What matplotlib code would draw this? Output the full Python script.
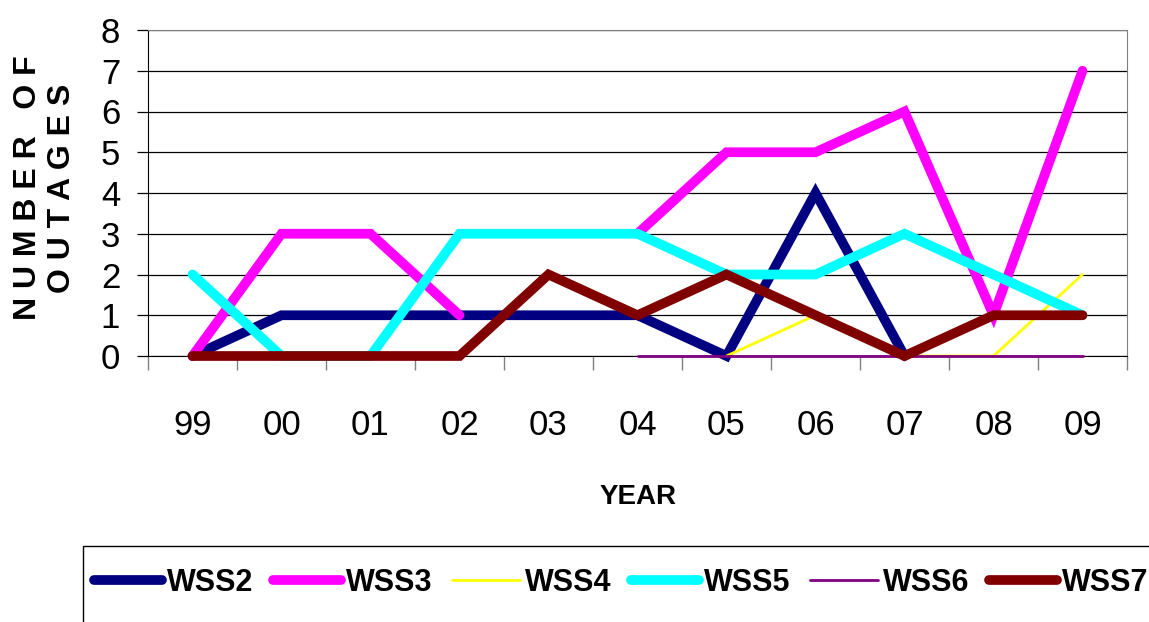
import numpy as np
import matplotlib
matplotlib.use('Agg')
import matplotlib.pyplot as plt
from matplotlib.patches import Rectangle

years = ['99', '00', '01', '02', '03', '04', '05', '06', '07', '08', '09']
nan = np.nan
wss2 = [0, 1, 1, 1, 1, 1, 0, 4, 0, nan, nan]
wss3 = [0, 3, 3, 1, nan, 3, 5, 5, 6, 1, 7]
wss4 = [nan, nan, nan, nan, nan, nan, 0, 1, 0, 0, 2]
wss5 = [2, 0, 0, 3, 3, 3, 2, 2, 3, 2, 1]
wss6 = [nan, nan, nan, nan, nan, 0, 0, 0, 0, 0, 0]
wss7 = [0, 0, 0, 0, 2, 1, 2, 1, 0, 1, 1]

series = [('WSS2', wss2, '#000080', 7),
          ('WSS3', wss3, '#ff00ff', 7),
          ('WSS4', wss4, '#ffff00', 2),
          ('WSS5', wss5, '#00ffff', 7),
          ('WSS6', wss6, '#800080', 2),
          ('WSS7', wss7, '#800000', 7)]

plt.rcParams['font.family'] = ['Liberation Sans', 'DejaVu Sans']

W, H = 1149, 622
fig = plt.figure(figsize=(W/100, H/100), dpi=100)
ax = fig.add_axes([148/W, 1-356/H, (1127-148)/W, (356-30)/H])

x = np.arange(len(years))
for name, vals, col, lw in series:
    ax.plot(x, vals, color=col, lw=lw, label=name, clip_on=False, zorder=3,
            solid_capstyle='round', solid_joinstyle='miter')

ax.set_xlim(-0.5, len(years) - 0.5)
ax.set_ylim(0, 8)
ax.set_yticks(range(9))
ax.yaxis.grid(True, color='black', lw=0.9)
ax.set_axisbelow(True)
ax.tick_params(axis='y', direction='out', length=8, width=0.9, labelsize=25, pad=12)

# ticks on category boundaries, labels in the middle
ax.set_xticks(np.arange(-0.5, len(years)), minor=False)
ax.set_xticklabels([])
ax.set_xticks(x, minor=True)
ax.set_xticklabels(years, minor=True, fontsize=25)
ax.tick_params(axis='x', which='major', direction='out', length=10, color='gray', width=1)
ax.tick_params(axis='x', which='minor', length=0, pad=38)

for s in ['top', 'right']:
    ax.spines[s].set_color('gray')

fig.text(638/W, 1-497/H, 'YEAR', ha='center', va='center',
         fontsize=20, fontweight='bold')
fig.text(45/W, 1-188/H, 'N U M B E R   O F\nO U T A G E S', rotation=90,
         ha='center', va='center', multialignment='center',
         fontsize=23, fontweight='bold', linespacing=1.15)

# legend box runs off the right and bottom edge
fig.patches.append(Rectangle((83/W, -0.1), 1.2, 1-546/H+0.1, transform=fig.transFigure,
                             fill=False, edgecolor='black', lw=1.0))
fig.legend(loc='center left', bbox_to_anchor=(94/W, 1-583/H), ncol=6,
           frameon=False, handlelength=2.22, handletextpad=0.16, columnspacing=0.65,
           borderpad=0, borderaxespad=0,
           prop={'weight': 'bold', 'size': 22})

fig.savefig('out.png', dpi=100)
